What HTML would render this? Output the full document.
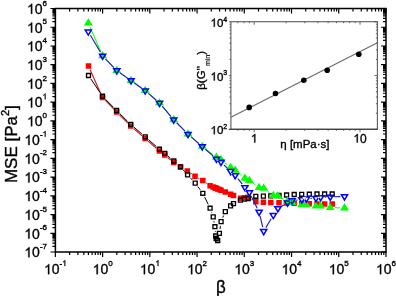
<!DOCTYPE html>
<html><head><meta charset="utf-8"><style>
html,body{margin:0;padding:0;background:#fff;width:396px;height:296px;overflow:hidden}
svg{display:block;will-change:transform}
text{font-family:"Liberation Sans", sans-serif;stroke:#000;stroke-width:0.35px}
.thin{stroke-width:0.15px}
.h{fill:transparent;stroke:transparent}
.one{fill:#000;stroke:#000;stroke-width:0.35px;vector-effect:non-scaling-stroke}
</style></head><body>
<svg width="396" height="296" viewBox="0 0 396 296" font-family='"Liberation Sans", sans-serif' fill="#000">
<path d="M50.40 252.01H55.40M386.00 252.01H381.00M52.40 246.37H55.40M386.00 246.37H383.00M52.40 243.07H55.40M386.00 243.07H383.00M52.40 240.73H55.40M386.00 240.73H383.00M52.40 238.92H55.40M386.00 238.92H383.00M52.40 237.44H55.40M386.00 237.44H383.00M52.40 236.18H55.40M386.00 236.18H383.00M52.40 235.10H55.40M386.00 235.10H383.00M52.40 234.14H55.40M386.00 234.14H383.00M50.40 233.28H55.40M386.00 233.28H381.00M52.40 227.64H55.40M386.00 227.64H383.00M52.40 224.34H55.40M386.00 224.34H383.00M52.40 222.00H55.40M386.00 222.00H383.00M52.40 220.19H55.40M386.00 220.19H383.00M52.40 218.71H55.40M386.00 218.71H383.00M52.40 217.45H55.40M386.00 217.45H383.00M52.40 216.37H55.40M386.00 216.37H383.00M52.40 215.41H55.40M386.00 215.41H383.00M50.40 214.55H55.40M386.00 214.55H381.00M52.40 208.91H55.40M386.00 208.91H383.00M52.40 205.61H55.40M386.00 205.61H383.00M52.40 203.27H55.40M386.00 203.27H383.00M52.40 201.46H55.40M386.00 201.46H383.00M52.40 199.98H55.40M386.00 199.98H383.00M52.40 198.72H55.40M386.00 198.72H383.00M52.40 197.64H55.40M386.00 197.64H383.00M52.40 196.68H55.40M386.00 196.68H383.00M50.40 195.82H55.40M386.00 195.82H381.00M52.40 190.18H55.40M386.00 190.18H383.00M52.40 186.88H55.40M386.00 186.88H383.00M52.40 184.54H55.40M386.00 184.54H383.00M52.40 182.73H55.40M386.00 182.73H383.00M52.40 181.25H55.40M386.00 181.25H383.00M52.40 179.99H55.40M386.00 179.99H383.00M52.40 178.91H55.40M386.00 178.91H383.00M52.40 177.95H55.40M386.00 177.95H383.00M50.40 177.09H55.40M386.00 177.09H381.00M52.40 171.45H55.40M386.00 171.45H383.00M52.40 168.15H55.40M386.00 168.15H383.00M52.40 165.81H55.40M386.00 165.81H383.00M52.40 164.00H55.40M386.00 164.00H383.00M52.40 162.52H55.40M386.00 162.52H383.00M52.40 161.26H55.40M386.00 161.26H383.00M52.40 160.18H55.40M386.00 160.18H383.00M52.40 159.22H55.40M386.00 159.22H383.00M50.40 158.36H55.40M386.00 158.36H381.00M52.40 152.72H55.40M386.00 152.72H383.00M52.40 149.42H55.40M386.00 149.42H383.00M52.40 147.08H55.40M386.00 147.08H383.00M52.40 145.27H55.40M386.00 145.27H383.00M52.40 143.79H55.40M386.00 143.79H383.00M52.40 142.53H55.40M386.00 142.53H383.00M52.40 141.45H55.40M386.00 141.45H383.00M52.40 140.49H55.40M386.00 140.49H383.00M50.40 139.63H55.40M386.00 139.63H381.00M52.40 133.99H55.40M386.00 133.99H383.00M52.40 130.69H55.40M386.00 130.69H383.00M52.40 128.35H55.40M386.00 128.35H383.00M52.40 126.54H55.40M386.00 126.54H383.00M52.40 125.06H55.40M386.00 125.06H383.00M52.40 123.80H55.40M386.00 123.80H383.00M52.40 122.72H55.40M386.00 122.72H383.00M52.40 121.76H55.40M386.00 121.76H383.00M50.40 120.90H55.40M386.00 120.90H381.00M52.40 115.26H55.40M386.00 115.26H383.00M52.40 111.96H55.40M386.00 111.96H383.00M52.40 109.62H55.40M386.00 109.62H383.00M52.40 107.81H55.40M386.00 107.81H383.00M52.40 106.33H55.40M386.00 106.33H383.00M52.40 105.07H55.40M386.00 105.07H383.00M52.40 103.99H55.40M386.00 103.99H383.00M52.40 103.03H55.40M386.00 103.03H383.00M50.40 102.17H55.40M386.00 102.17H381.00M52.40 96.53H55.40M386.00 96.53H383.00M52.40 93.23H55.40M386.00 93.23H383.00M52.40 90.89H55.40M386.00 90.89H383.00M52.40 89.08H55.40M386.00 89.08H383.00M52.40 87.60H55.40M386.00 87.60H383.00M52.40 86.34H55.40M386.00 86.34H383.00M52.40 85.26H55.40M386.00 85.26H383.00M52.40 84.30H55.40M386.00 84.30H383.00M50.40 83.44H55.40M386.00 83.44H381.00M52.40 77.80H55.40M386.00 77.80H383.00M52.40 74.50H55.40M386.00 74.50H383.00M52.40 72.16H55.40M386.00 72.16H383.00M52.40 70.35H55.40M386.00 70.35H383.00M52.40 68.87H55.40M386.00 68.87H383.00M52.40 67.61H55.40M386.00 67.61H383.00M52.40 66.53H55.40M386.00 66.53H383.00M52.40 65.57H55.40M386.00 65.57H383.00M50.40 64.71H55.40M386.00 64.71H381.00M52.40 59.07H55.40M386.00 59.07H383.00M52.40 55.77H55.40M386.00 55.77H383.00M52.40 53.43H55.40M386.00 53.43H383.00M52.40 51.62H55.40M386.00 51.62H383.00M52.40 50.14H55.40M386.00 50.14H383.00M52.40 48.88H55.40M386.00 48.88H383.00M52.40 47.80H55.40M386.00 47.80H383.00M52.40 46.84H55.40M386.00 46.84H383.00M50.40 45.98H55.40M386.00 45.98H381.00M52.40 40.34H55.40M386.00 40.34H383.00M52.40 37.04H55.40M386.00 37.04H383.00M52.40 34.70H55.40M386.00 34.70H383.00M52.40 32.89H55.40M386.00 32.89H383.00M52.40 31.41H55.40M386.00 31.41H383.00M52.40 30.15H55.40M386.00 30.15H383.00M52.40 29.07H55.40M386.00 29.07H383.00M52.40 28.11H55.40M386.00 28.11H383.00M50.40 27.25H55.40M386.00 27.25H381.00M52.40 21.61H55.40M386.00 21.61H383.00M52.40 18.31H55.40M386.00 18.31H383.00M52.40 15.97H55.40M386.00 15.97H383.00M52.40 14.16H55.40M386.00 14.16H383.00M52.40 12.68H55.40M386.00 12.68H383.00M52.40 11.42H55.40M386.00 11.42H383.00M52.40 10.34H55.40M386.00 10.34H383.00M52.40 9.38H55.40M386.00 9.38H383.00M50.40 8.52H55.40M386.00 8.52H381.00M55.37 257.00V252.00M55.37 8.50V13.50M69.59 255.00V252.00M69.59 8.50V11.50M77.90 255.00V252.00M77.90 8.50V11.50M83.81 255.00V252.00M83.81 8.50V11.50M88.38 255.00V252.00M88.38 8.50V11.50M92.12 255.00V252.00M92.12 8.50V11.50M95.28 255.00V252.00M95.28 8.50V11.50M98.02 255.00V252.00M98.02 8.50V11.50M100.44 255.00V252.00M100.44 8.50V11.50M102.60 257.00V252.00M102.60 8.50V13.50M116.82 255.00V252.00M116.82 8.50V11.50M125.13 255.00V252.00M125.13 8.50V11.50M131.04 255.00V252.00M131.04 8.50V11.50M135.61 255.00V252.00M135.61 8.50V11.50M139.35 255.00V252.00M139.35 8.50V11.50M142.51 255.00V252.00M142.51 8.50V11.50M145.25 255.00V252.00M145.25 8.50V11.50M147.67 255.00V252.00M147.67 8.50V11.50M149.83 257.00V252.00M149.83 8.50V13.50M164.05 255.00V252.00M164.05 8.50V11.50M172.36 255.00V252.00M172.36 8.50V11.50M178.27 255.00V252.00M178.27 8.50V11.50M182.84 255.00V252.00M182.84 8.50V11.50M186.58 255.00V252.00M186.58 8.50V11.50M189.74 255.00V252.00M189.74 8.50V11.50M192.48 255.00V252.00M192.48 8.50V11.50M194.90 255.00V252.00M194.90 8.50V11.50M197.06 257.00V252.00M197.06 8.50V13.50M211.28 255.00V252.00M211.28 8.50V11.50M219.59 255.00V252.00M219.59 8.50V11.50M225.50 255.00V252.00M225.50 8.50V11.50M230.07 255.00V252.00M230.07 8.50V11.50M233.81 255.00V252.00M233.81 8.50V11.50M236.97 255.00V252.00M236.97 8.50V11.50M239.71 255.00V252.00M239.71 8.50V11.50M242.13 255.00V252.00M242.13 8.50V11.50M244.29 257.00V252.00M244.29 8.50V13.50M258.51 255.00V252.00M258.51 8.50V11.50M266.82 255.00V252.00M266.82 8.50V11.50M272.73 255.00V252.00M272.73 8.50V11.50M277.30 255.00V252.00M277.30 8.50V11.50M281.04 255.00V252.00M281.04 8.50V11.50M284.20 255.00V252.00M284.20 8.50V11.50M286.94 255.00V252.00M286.94 8.50V11.50M289.36 255.00V252.00M289.36 8.50V11.50M291.52 257.00V252.00M291.52 8.50V13.50M305.74 255.00V252.00M305.74 8.50V11.50M314.05 255.00V252.00M314.05 8.50V11.50M319.96 255.00V252.00M319.96 8.50V11.50M324.53 255.00V252.00M324.53 8.50V11.50M328.27 255.00V252.00M328.27 8.50V11.50M331.43 255.00V252.00M331.43 8.50V11.50M334.17 255.00V252.00M334.17 8.50V11.50M336.59 255.00V252.00M336.59 8.50V11.50M338.75 257.00V252.00M338.75 8.50V13.50M352.97 255.00V252.00M352.97 8.50V11.50M361.28 255.00V252.00M361.28 8.50V11.50M367.19 255.00V252.00M367.19 8.50V11.50M371.76 255.00V252.00M371.76 8.50V11.50M375.50 255.00V252.00M375.50 8.50V11.50M378.66 255.00V252.00M378.66 8.50V11.50M381.40 255.00V252.00M381.40 8.50V11.50M383.82 255.00V252.00M383.82 8.50V11.50M385.98 257.00V252.00M385.98 8.50V13.50" stroke="#000" stroke-width="1.2" fill="none"/>
<rect x="55.4" y="8.5" width="330.6" height="243.5" fill="none" stroke="#000" stroke-width="1.5"/>
<g transform="translate(47.00 257.31) scale(1 1.0)"><text class="lbl" x="0" y="0" text-anchor="end" font-size="14"><tspan class="h">1</tspan>0<tspan dy="-8.2" font-size="8">-7</tspan></text><path class="one" d="M763 0L583 0L583 1147C540 1106 483 1064 413 1023C343 982 280 951 225 930L225 1104C326 1151 414 1209 489 1276C564 1343 617 1409 648 1472L763 1472Z" transform="translate(-22.703 0.000) scale(0.006836 -0.006836)"/></g>
<g transform="translate(47.00 238.58) scale(1 1.0)"><text class="lbl" x="0" y="0" text-anchor="end" font-size="14"><tspan class="h">1</tspan>0<tspan dy="-8.2" font-size="8">-6</tspan></text><path class="one" d="M763 0L583 0L583 1147C540 1106 483 1064 413 1023C343 982 280 951 225 930L225 1104C326 1151 414 1209 489 1276C564 1343 617 1409 648 1472L763 1472Z" transform="translate(-22.703 0.000) scale(0.006836 -0.006836)"/></g>
<g transform="translate(47.00 219.85) scale(1 1.0)"><text class="lbl" x="0" y="0" text-anchor="end" font-size="14"><tspan class="h">1</tspan>0<tspan dy="-8.2" font-size="8">-5</tspan></text><path class="one" d="M763 0L583 0L583 1147C540 1106 483 1064 413 1023C343 982 280 951 225 930L225 1104C326 1151 414 1209 489 1276C564 1343 617 1409 648 1472L763 1472Z" transform="translate(-22.703 0.000) scale(0.006836 -0.006836)"/></g>
<g transform="translate(47.00 201.12) scale(1 1.0)"><text class="lbl" x="0" y="0" text-anchor="end" font-size="14"><tspan class="h">1</tspan>0<tspan dy="-8.2" font-size="8">-4</tspan></text><path class="one" d="M763 0L583 0L583 1147C540 1106 483 1064 413 1023C343 982 280 951 225 930L225 1104C326 1151 414 1209 489 1276C564 1343 617 1409 648 1472L763 1472Z" transform="translate(-22.703 0.000) scale(0.006836 -0.006836)"/></g>
<g transform="translate(47.00 182.39) scale(1 1.0)"><text class="lbl" x="0" y="0" text-anchor="end" font-size="14"><tspan class="h">1</tspan>0<tspan dy="-8.2" font-size="8">-3</tspan></text><path class="one" d="M763 0L583 0L583 1147C540 1106 483 1064 413 1023C343 982 280 951 225 930L225 1104C326 1151 414 1209 489 1276C564 1343 617 1409 648 1472L763 1472Z" transform="translate(-22.703 0.000) scale(0.006836 -0.006836)"/></g>
<g transform="translate(47.00 163.66) scale(1 1.0)"><text class="lbl" x="0" y="0" text-anchor="end" font-size="14"><tspan class="h">1</tspan>0<tspan dy="-8.2" font-size="8">-2</tspan></text><path class="one" d="M763 0L583 0L583 1147C540 1106 483 1064 413 1023C343 982 280 951 225 930L225 1104C326 1151 414 1209 489 1276C564 1343 617 1409 648 1472L763 1472Z" transform="translate(-22.703 0.000) scale(0.006836 -0.006836)"/></g>
<g transform="translate(47.00 144.93) scale(1 1.0)"><text class="lbl" x="0" y="0" text-anchor="end" font-size="14"><tspan class="h">1</tspan>0<tspan dy="-8.2" font-size="8">-<tspan class="h">1</tspan></tspan></text><path class="one" d="M763 0L583 0L583 1147C540 1106 483 1064 413 1023C343 982 280 951 225 930L225 1104C326 1151 414 1209 489 1276C564 1343 617 1409 648 1472L763 1472Z" transform="translate(-22.703 0.000) scale(0.006836 -0.006836)"/><path class="one" d="M763 0L583 0L583 1147C540 1106 483 1064 413 1023C343 982 280 951 225 930L225 1104C326 1151 414 1209 489 1276C564 1343 617 1409 648 1472L763 1472Z" transform="translate(-4.469 -8.200) scale(0.003906 -0.003906)"/></g>
<g transform="translate(47.00 126.20) scale(1 1.0)"><text class="lbl" x="0" y="0" text-anchor="end" font-size="14"><tspan class="h">1</tspan>0<tspan dy="-8.2" font-size="8">0</tspan></text><path class="one" d="M763 0L583 0L583 1147C540 1106 483 1064 413 1023C343 982 280 951 225 930L225 1104C326 1151 414 1209 489 1276C564 1343 617 1409 648 1472L763 1472Z" transform="translate(-20.031 0.000) scale(0.006836 -0.006836)"/></g>
<g transform="translate(47.00 107.47) scale(1 1.0)"><text class="lbl" x="0" y="0" text-anchor="end" font-size="14"><tspan class="h">1</tspan>0<tspan dy="-8.2" font-size="8"><tspan class="h">1</tspan></tspan></text><path class="one" d="M763 0L583 0L583 1147C540 1106 483 1064 413 1023C343 982 280 951 225 930L225 1104C326 1151 414 1209 489 1276C564 1343 617 1409 648 1472L763 1472Z" transform="translate(-20.031 0.000) scale(0.006836 -0.006836)"/><path class="one" d="M763 0L583 0L583 1147C540 1106 483 1064 413 1023C343 982 280 951 225 930L225 1104C326 1151 414 1209 489 1276C564 1343 617 1409 648 1472L763 1472Z" transform="translate(-4.453 -8.200) scale(0.003906 -0.003906)"/></g>
<g transform="translate(47.00 88.74) scale(1 1.0)"><text class="lbl" x="0" y="0" text-anchor="end" font-size="14"><tspan class="h">1</tspan>0<tspan dy="-8.2" font-size="8">2</tspan></text><path class="one" d="M763 0L583 0L583 1147C540 1106 483 1064 413 1023C343 982 280 951 225 930L225 1104C326 1151 414 1209 489 1276C564 1343 617 1409 648 1472L763 1472Z" transform="translate(-20.031 0.000) scale(0.006836 -0.006836)"/></g>
<g transform="translate(47.00 70.01) scale(1 1.0)"><text class="lbl" x="0" y="0" text-anchor="end" font-size="14"><tspan class="h">1</tspan>0<tspan dy="-8.2" font-size="8">3</tspan></text><path class="one" d="M763 0L583 0L583 1147C540 1106 483 1064 413 1023C343 982 280 951 225 930L225 1104C326 1151 414 1209 489 1276C564 1343 617 1409 648 1472L763 1472Z" transform="translate(-20.031 0.000) scale(0.006836 -0.006836)"/></g>
<g transform="translate(47.00 51.28) scale(1 1.0)"><text class="lbl" x="0" y="0" text-anchor="end" font-size="14"><tspan class="h">1</tspan>0<tspan dy="-8.2" font-size="8">4</tspan></text><path class="one" d="M763 0L583 0L583 1147C540 1106 483 1064 413 1023C343 982 280 951 225 930L225 1104C326 1151 414 1209 489 1276C564 1343 617 1409 648 1472L763 1472Z" transform="translate(-20.031 0.000) scale(0.006836 -0.006836)"/></g>
<g transform="translate(47.00 32.55) scale(1 1.0)"><text class="lbl" x="0" y="0" text-anchor="end" font-size="14"><tspan class="h">1</tspan>0<tspan dy="-8.2" font-size="8">5</tspan></text><path class="one" d="M763 0L583 0L583 1147C540 1106 483 1064 413 1023C343 982 280 951 225 930L225 1104C326 1151 414 1209 489 1276C564 1343 617 1409 648 1472L763 1472Z" transform="translate(-20.031 0.000) scale(0.006836 -0.006836)"/></g>
<g transform="translate(47.00 13.82) scale(1 1.0)"><text class="lbl" x="0" y="0" text-anchor="end" font-size="14"><tspan class="h">1</tspan>0<tspan dy="-8.2" font-size="8">6</tspan></text><path class="one" d="M763 0L583 0L583 1147C540 1106 483 1064 413 1023C343 982 280 951 225 930L225 1104C326 1151 414 1209 489 1276C564 1343 617 1409 648 1472L763 1472Z" transform="translate(-20.031 0.000) scale(0.006836 -0.006836)"/></g>
<g transform="translate(55.37 274.20) scale(1 1.0)"><text class="lbl" x="0" y="0" text-anchor="middle" font-size="14"><tspan class="h">1</tspan>0<tspan dy="-8.2" font-size="8">-<tspan class="h">1</tspan></tspan></text><path class="one" d="M763 0L583 0L583 1147C540 1106 483 1064 413 1023C343 982 280 951 225 930L225 1104C326 1151 414 1209 489 1276C564 1343 617 1409 648 1472L763 1472Z" transform="translate(-11.352 0.000) scale(0.006836 -0.006836)"/><path class="one" d="M763 0L583 0L583 1147C540 1106 483 1064 413 1023C343 982 280 951 225 930L225 1104C326 1151 414 1209 489 1276C564 1343 617 1409 648 1472L763 1472Z" transform="translate(6.883 -8.200) scale(0.003906 -0.003906)"/></g>
<g transform="translate(102.60 274.20) scale(1 1.0)"><text class="lbl" x="0" y="0" text-anchor="middle" font-size="14"><tspan class="h">1</tspan>0<tspan dy="-8.2" font-size="8">0</tspan></text><path class="one" d="M763 0L583 0L583 1147C540 1106 483 1064 413 1023C343 982 280 951 225 930L225 1104C326 1151 414 1209 489 1276C564 1343 617 1409 648 1472L763 1472Z" transform="translate(-10.016 0.000) scale(0.006836 -0.006836)"/></g>
<g transform="translate(149.83 274.20) scale(1 1.0)"><text class="lbl" x="0" y="0" text-anchor="middle" font-size="14"><tspan class="h">1</tspan>0<tspan dy="-8.2" font-size="8"><tspan class="h">1</tspan></tspan></text><path class="one" d="M763 0L583 0L583 1147C540 1106 483 1064 413 1023C343 982 280 951 225 930L225 1104C326 1151 414 1209 489 1276C564 1343 617 1409 648 1472L763 1472Z" transform="translate(-10.016 0.000) scale(0.006836 -0.006836)"/><path class="one" d="M763 0L583 0L583 1147C540 1106 483 1064 413 1023C343 982 280 951 225 930L225 1104C326 1151 414 1209 489 1276C564 1343 617 1409 648 1472L763 1472Z" transform="translate(5.562 -8.200) scale(0.003906 -0.003906)"/></g>
<g transform="translate(197.06 274.20) scale(1 1.0)"><text class="lbl" x="0" y="0" text-anchor="middle" font-size="14"><tspan class="h">1</tspan>0<tspan dy="-8.2" font-size="8">2</tspan></text><path class="one" d="M763 0L583 0L583 1147C540 1106 483 1064 413 1023C343 982 280 951 225 930L225 1104C326 1151 414 1209 489 1276C564 1343 617 1409 648 1472L763 1472Z" transform="translate(-10.016 0.000) scale(0.006836 -0.006836)"/></g>
<g transform="translate(244.29 274.20) scale(1 1.0)"><text class="lbl" x="0" y="0" text-anchor="middle" font-size="14"><tspan class="h">1</tspan>0<tspan dy="-8.2" font-size="8">3</tspan></text><path class="one" d="M763 0L583 0L583 1147C540 1106 483 1064 413 1023C343 982 280 951 225 930L225 1104C326 1151 414 1209 489 1276C564 1343 617 1409 648 1472L763 1472Z" transform="translate(-10.016 0.000) scale(0.006836 -0.006836)"/></g>
<g transform="translate(291.52 274.20) scale(1 1.0)"><text class="lbl" x="0" y="0" text-anchor="middle" font-size="14"><tspan class="h">1</tspan>0<tspan dy="-8.2" font-size="8">4</tspan></text><path class="one" d="M763 0L583 0L583 1147C540 1106 483 1064 413 1023C343 982 280 951 225 930L225 1104C326 1151 414 1209 489 1276C564 1343 617 1409 648 1472L763 1472Z" transform="translate(-10.016 0.000) scale(0.006836 -0.006836)"/></g>
<g transform="translate(338.75 274.20) scale(1 1.0)"><text class="lbl" x="0" y="0" text-anchor="middle" font-size="14"><tspan class="h">1</tspan>0<tspan dy="-8.2" font-size="8">5</tspan></text><path class="one" d="M763 0L583 0L583 1147C540 1106 483 1064 413 1023C343 982 280 951 225 930L225 1104C326 1151 414 1209 489 1276C564 1343 617 1409 648 1472L763 1472Z" transform="translate(-10.016 0.000) scale(0.006836 -0.006836)"/></g>
<g transform="translate(385.98 274.20) scale(1 1.0)"><text class="lbl" x="0" y="0" text-anchor="middle" font-size="14"><tspan class="h">1</tspan>0<tspan dy="-8.2" font-size="8">6</tspan></text><path class="one" d="M763 0L583 0L583 1147C540 1106 483 1064 413 1023C343 982 280 951 225 930L225 1104C326 1151 414 1209 489 1276C564 1343 617 1409 648 1472L763 1472Z" transform="translate(-10.016 0.000) scale(0.006836 -0.006836)"/></g>
<g transform="translate(16.90 183.10) rotate(-90) scale(1 1.0)"><text class="lbl" x="0" y="0" font-size="17">MSE [Pa<tspan dy="-7.5" font-size="11">2</tspan><tspan dy="7.5">]</tspan></text></g>
<g transform="translate(221 292.6) scale(1 1.095)"><text class="lbl" x="0" y="0" text-anchor="middle" font-size="17">β</text></g>
<path d="M90.12 69.76L100.88 93.94M105.30 100.46L113.80 109.14M119.44 114.82L127.86 123.18M133.73 128.61L142.17 135.89M148.21 141.13L156.39 148.27M167.86 157.58L170.74 160.02M190.59 173.27L191.71 174.03M198.50 178.23L199.30 178.67M206.08 182.89L206.82 183.41M251.57 199.28L252.33 199.72" fill="none" stroke="#d81010" stroke-width="1.1"/>
<path d="M85.75 63.35h5.5v5.5h-5.5ZM99.75 94.85h5.5v5.5h-5.5ZM113.85 109.25h5.5v5.5h-5.5ZM127.95 123.25h5.5v5.5h-5.5ZM142.45 135.75h5.5v5.5h-5.5ZM156.65 148.15h5.5v5.5h-5.5ZM162.05 152.25h5.5v5.5h-5.5ZM171.05 159.85h5.5v5.5h-5.5ZM177.75 164.25h5.5v5.5h-5.5ZM184.55 168.25h5.5v5.5h-5.5ZM192.25 173.55h5.5v5.5h-5.5ZM200.05 177.85h5.5v5.5h-5.5ZM207.35 182.95h5.5v5.5h-5.5ZM210.45 184.25h5.5v5.5h-5.5ZM212.15 184.96h5.5v5.5h-5.5ZM212.95 185.30h5.5v5.5h-5.5ZM213.45 185.50h5.5v5.5h-5.5ZM214.95 186.13h5.5v5.5h-5.5ZM216.65 186.84h5.5v5.5h-5.5ZM218.35 187.56h5.5v5.5h-5.5ZM222.55 189.32h5.5v5.5h-5.5ZM227.85 191.54h5.5v5.5h-5.5ZM230.75 192.75h5.5v5.5h-5.5ZM238.05 195.45h5.5v5.5h-5.5ZM241.65 195.05h5.5v5.5h-5.5ZM245.35 194.55h5.5v5.5h-5.5ZM253.05 198.95h5.5v5.5h-5.5ZM260.65 199.45h5.5v5.5h-5.5ZM268.05 199.75h5.5v5.5h-5.5ZM276.25 199.95h5.5v5.5h-5.5ZM283.85 200.25h5.5v5.5h-5.5ZM291.45 200.55h5.5v5.5h-5.5ZM298.95 200.95h5.5v5.5h-5.5ZM306.55 201.05h5.5v5.5h-5.5ZM314.25 201.15h5.5v5.5h-5.5ZM321.85 201.25h5.5v5.5h-5.5ZM329.45 201.25h5.5v5.5h-5.5Z" fill="#ff0000"/>
<path d="M90.91 79.06L100.09 92.64M105.52 99.26L113.58 107.44M119.66 113.52L127.64 121.38M133.97 127.19L141.93 134.01M148.44 139.63L156.16 146.37M168.09 156.17L170.51 158.23M183.33 170.03L184.77 171.67M190.52 178.05L192.28 179.95M197.77 186.55L200.23 189.85M204.69 197.16L208.21 204.34M211.54 212.25L211.76 212.85M213.93 221.14L214.17 222.46M215.27 230.98L215.33 231.72M220.01 229.14L220.49 225.86M222.77 217.64L223.63 215.56" fill="none" stroke="#000000" stroke-width="1.0"/>
<path d="M86.53 73.53h3.9499999999999997v3.9499999999999997h-3.9499999999999997ZM100.53 94.23h3.9499999999999997v3.9499999999999997h-3.9499999999999997ZM114.62 108.53h3.9499999999999997v3.9499999999999997h-3.9499999999999997ZM128.72 122.43h3.9499999999999997v3.9499999999999997h-3.9499999999999997ZM143.22 134.83h3.9499999999999997v3.9499999999999997h-3.9499999999999997ZM157.43 147.22h3.9499999999999997v3.9499999999999997h-3.9499999999999997ZM162.83 151.43h3.9499999999999997v3.9499999999999997h-3.9499999999999997ZM171.83 159.03h3.9499999999999997v3.9499999999999997h-3.9499999999999997ZM178.53 164.83h3.9499999999999997v3.9499999999999997h-3.9499999999999997ZM185.62 172.93h3.9499999999999997v3.9499999999999997h-3.9499999999999997ZM193.22 181.12h3.9499999999999997v3.9499999999999997h-3.9499999999999997ZM200.83 191.33h3.9499999999999997v3.9499999999999997h-3.9499999999999997ZM208.12 206.22h3.9499999999999997v3.9499999999999997h-3.9499999999999997ZM211.22 214.93h3.9499999999999997v3.9499999999999997h-3.9499999999999997ZM212.93 224.72h3.9499999999999997v3.9499999999999997h-3.9499999999999997ZM213.72 234.03h3.9499999999999997v3.9499999999999997h-3.9499999999999997ZM214.22 236.53h3.9499999999999997v3.9499999999999997h-3.9499999999999997ZM215.72 238.53h3.9499999999999997v3.9499999999999997h-3.9499999999999997ZM217.43 231.43h3.9499999999999997v3.9499999999999997h-3.9499999999999997ZM219.12 219.62h3.9499999999999997v3.9499999999999997h-3.9499999999999997ZM223.33 209.62h3.9499999999999997v3.9499999999999997h-3.9499999999999997ZM228.62 203.93h3.9499999999999997v3.9499999999999997h-3.9499999999999997ZM231.53 201.62h3.9499999999999997v3.9499999999999997h-3.9499999999999997ZM238.43 198.12h3.9499999999999997v3.9499999999999997h-3.9499999999999997ZM242.33 197.22h3.9499999999999997v3.9499999999999997h-3.9499999999999997ZM246.22 196.53h3.9499999999999997v3.9499999999999997h-3.9499999999999997ZM253.83 194.33h3.9499999999999997v3.9499999999999997h-3.9499999999999997ZM261.42 194.12h3.9499999999999997v3.9499999999999997h-3.9499999999999997ZM268.82 193.83h3.9499999999999997v3.9499999999999997h-3.9499999999999997ZM277.02 193.53h3.9499999999999997v3.9499999999999997h-3.9499999999999997ZM284.62 193.03h3.9499999999999997v3.9499999999999997h-3.9499999999999997ZM292.22 192.53h3.9499999999999997v3.9499999999999997h-3.9499999999999997ZM299.72 192.33h3.9499999999999997v3.9499999999999997h-3.9499999999999997ZM307.32 192.22h3.9499999999999997v3.9499999999999997h-3.9499999999999997ZM315.02 192.03h3.9499999999999997v3.9499999999999997h-3.9499999999999997ZM322.62 192.03h3.9499999999999997v3.9499999999999997h-3.9499999999999997ZM330.22 192.03h3.9499999999999997v3.9499999999999997h-3.9499999999999997Z" fill="none" stroke="#000000" stroke-width="1.35"/>
<path d="M90.10 27.22L100.80 51.74M105.73 59.10L113.67 67.33M120.48 73.16L127.32 77.98M134.67 83.17L141.53 88.06M148.61 93.60L156.09 100.03M162.40 106.40L170.80 116.33M176.87 122.96L184.83 130.97M191.40 137.11L198.80 143.52M205.78 149.20L212.82 154.57M224.49 162.54L227.11 164.66M238.67 173.26L241.43 175.54M253.05 183.13L255.45 184.87M267.32 191.08L269.68 192.82M281.91 198.15L283.49 198.95M296.50 203.45L297.40 203.65M310.86 205.50L311.54 205.60M325.05 206.89L325.75 207.01M334.70 207.79L340.00 207.91" fill="none" stroke="#00ff00" stroke-width="1.0"/>
<path d="M88.30 18.30L92.80 25.50L83.80 25.50ZM102.60 51.07L107.10 58.27L98.10 58.27ZM116.80 65.77L121.30 72.97L112.30 72.97ZM131.00 75.77L135.50 82.97L126.50 82.97ZM145.20 85.87L149.70 93.07L140.70 93.07ZM159.50 98.17L164.00 105.37L155.00 105.37ZM173.70 114.97L178.20 122.17L169.20 122.17ZM188.00 129.37L192.50 136.57L183.50 136.57ZM202.20 141.67L206.70 148.87L197.70 148.87ZM216.40 152.50L220.90 159.70L211.90 159.70ZM221.00 154.90L225.50 162.10L216.50 162.10ZM230.60 162.70L235.10 169.90L226.10 169.90ZM235.20 165.60L239.70 172.80L230.70 172.80ZM244.90 173.60L249.40 180.80L240.40 180.80ZM249.40 175.70L253.90 182.90L244.90 182.90ZM259.10 182.70L263.60 189.90L254.60 189.90ZM263.70 183.60L268.20 190.80L259.20 190.80ZM273.30 190.70L277.80 197.90L268.80 197.90ZM277.90 191.30L282.40 198.50L273.40 198.50ZM287.50 196.20L292.00 203.40L283.00 203.40ZM292.10 197.70L296.60 204.90L287.60 204.90ZM301.80 199.80L306.30 207.00L297.30 207.00ZM306.40 200.10L310.90 207.30L301.90 207.30ZM316.00 201.40L320.50 208.60L311.50 208.60ZM320.60 201.40L325.10 208.60L316.10 208.60ZM330.20 202.90L334.70 210.10L325.70 210.10ZM344.50 203.20L349.00 210.40L340.00 210.40Z" fill="#00ff00"/>
<path d="M90.44 35.28L100.46 52.25M105.52 58.89L113.88 67.55M120.23 72.98L127.57 78.15M134.42 83.00L141.78 88.23M148.38 93.41L156.32 100.23M162.21 106.17L170.99 116.56M176.66 122.75L185.04 131.19M191.17 136.92L199.03 143.72M205.36 149.23L213.24 156.10M224.03 164.97L227.57 168.36M237.84 178.63L242.26 184.10M251.26 196.23L257.24 208.30M260.08 216.15L262.72 227.18M265.85 227.66L271.15 218.77M281.53 206.25L283.87 204.88M296.28 200.14L297.62 200.00M310.59 198.50L311.81 198.43M324.79 197.15L326.01 197.09M334.40 196.75L340.30 196.58" fill="none" stroke="#2020b8" stroke-width="1.15"/>
<path d="M83.90 29.20L92.70 29.20L88.30 36.60ZM88.30 33.67L90.06 30.70L86.54 30.70ZM98.20 53.40L107.00 53.40L102.60 60.80ZM102.60 57.87L104.36 54.90L100.84 54.90ZM112.40 68.10L121.20 68.10L116.80 75.50ZM116.80 72.57L118.56 69.60L115.04 69.60ZM126.60 78.10L135.40 78.10L131.00 85.50ZM131.00 82.57L132.76 79.60L129.24 79.60ZM140.80 88.20L149.60 88.20L145.20 95.60ZM145.20 92.67L146.96 89.70L143.44 89.70ZM155.10 100.50L163.90 100.50L159.50 107.90ZM159.50 104.97L161.26 102.00L157.74 102.00ZM169.30 117.30L178.10 117.30L173.70 124.70ZM173.70 121.77L175.46 118.80L171.94 118.80ZM183.60 131.70L192.40 131.70L188.00 139.10ZM188.00 136.17L189.76 133.20L186.24 133.20ZM197.80 144.00L206.60 144.00L202.20 151.40ZM202.20 148.47L203.96 145.50L200.44 145.50ZM212.00 156.40L220.80 156.40L216.40 163.80ZM216.40 160.87L218.16 157.90L214.64 157.90ZM216.60 159.60L225.40 159.60L221.00 167.00ZM221.00 164.07L222.76 161.10L219.24 161.10ZM226.20 168.80L235.00 168.80L230.60 176.20ZM230.60 173.27L232.36 170.30L228.84 170.30ZM230.80 172.90L239.60 172.90L235.20 180.30ZM235.20 177.37L236.96 174.40L233.44 174.40ZM240.50 184.90L249.30 184.90L244.90 192.30ZM244.90 189.37L246.66 186.40L243.14 186.40ZM245.00 190.00L253.80 190.00L249.40 197.40ZM249.40 194.47L251.16 191.50L247.64 191.50ZM254.70 209.60L263.50 209.60L259.10 217.00ZM259.10 214.07L260.86 211.10L257.34 211.10ZM259.30 228.80L268.10 228.80L263.70 236.20ZM263.70 233.27L265.46 230.30L261.94 230.30ZM268.90 212.70L277.70 212.70L273.30 220.10ZM273.30 217.17L275.06 214.20L271.54 214.20ZM273.50 205.90L282.30 205.90L277.90 213.30ZM277.90 210.37L279.66 207.40L276.14 207.40ZM283.10 200.30L291.90 200.30L287.50 207.70ZM287.50 204.77L289.26 201.80L285.74 201.80ZM287.70 198.10L296.50 198.10L292.10 205.50ZM292.10 202.57L293.86 199.60L290.34 199.60ZM297.40 197.10L306.20 197.10L301.80 204.50ZM301.80 201.57L303.56 198.60L300.04 198.60ZM302.00 196.30L310.80 196.30L306.40 203.70ZM306.40 200.77L308.16 197.80L304.64 197.80ZM311.60 195.70L320.40 195.70L316.00 203.10ZM316.00 200.17L317.76 197.20L314.24 197.20ZM316.20 194.90L325.00 194.90L320.60 202.30ZM320.60 199.37L322.36 196.40L318.84 196.40ZM325.80 194.40L334.60 194.40L330.20 201.80ZM330.20 198.87L331.96 195.90L328.44 195.90ZM340.10 194.00L348.90 194.00L344.50 201.40ZM344.50 198.47L346.26 195.50L342.74 195.50Z" fill="#0000ff" fill-rule="evenodd"/>
<rect x="230.9" y="21.7" width="146.49999999999997" height="107.60000000000001" fill="#fff" stroke="#626262" stroke-width="1.15"/>
<line x1="228.9" y1="129.3" x2="377.4" y2="129.3" stroke="#333" stroke-width="1.1"/>
<path d="M228.90 129.40H230.90M377.40 129.40H374.40M229.40 113.20H230.90M377.40 113.20H375.90M229.40 103.73H230.90M377.40 103.73H375.90M229.40 97.01H230.90M377.40 97.01H375.90M229.40 91.80H230.90M377.40 91.80H375.90M229.40 87.54H230.90M377.40 87.54H375.90M229.40 83.93H230.90M377.40 83.93H375.90M229.40 80.81H230.90M377.40 80.81H375.90M229.40 78.06H230.90M377.40 78.06H375.90M228.90 75.60H230.90M377.40 75.60H374.40M229.40 59.40H230.90M377.40 59.40H375.90M229.40 49.93H230.90M377.40 49.93H375.90M229.40 43.21H230.90M377.40 43.21H375.90M229.40 38.00H230.90M377.40 38.00H375.90M229.40 33.74H230.90M377.40 33.74H375.90M229.40 30.13H230.90M377.40 30.13H375.90M229.40 27.01H230.90M377.40 27.01H375.90M229.40 24.26H230.90M377.40 24.26H375.90M228.90 21.80H230.90M377.40 21.80H374.40M237.81 129.30V130.80M237.81 21.70V23.20M243.95 129.30V130.80M243.95 21.70V23.20M249.36 129.30V130.80M249.36 21.70V23.20M254.20 129.30V132.30M254.20 21.70V24.70M286.05 129.30V130.80M286.05 21.70V23.20M304.68 129.30V130.80M304.68 21.70V23.20M317.90 129.30V130.80M317.90 21.70V23.20M328.15 129.30V130.80M328.15 21.70V23.20M336.53 129.30V130.80M336.53 21.70V23.20M343.61 129.30V130.80M343.61 21.70V23.20M349.75 129.30V130.80M349.75 21.70V23.20M355.16 129.30V130.80M355.16 21.70V23.20M360.00 129.30V132.30M360.00 21.70V24.70" stroke="#444" stroke-width="0.8" fill="none"/>
<g transform="translate(227.20 134.30) scale(1 1.0)"><text class="lbl" x="0" y="0" text-anchor="end" font-size="11.5"><tspan class="h">1</tspan>0<tspan dy="-5.2" font-size="7">2</tspan></text><path class="one" d="M763 0L583 0L583 1147C540 1106 483 1064 413 1023C343 982 280 951 225 930L225 1104C326 1151 414 1209 489 1276C564 1343 617 1409 648 1472L763 1472Z" transform="translate(-16.703 0.000) scale(0.005615 -0.005615)"/></g>
<g transform="translate(227.20 80.50) scale(1 1.0)"><text class="lbl" x="0" y="0" text-anchor="end" font-size="11.5"><tspan class="h">1</tspan>0<tspan dy="-5.2" font-size="7">3</tspan></text><path class="one" d="M763 0L583 0L583 1147C540 1106 483 1064 413 1023C343 982 280 951 225 930L225 1104C326 1151 414 1209 489 1276C564 1343 617 1409 648 1472L763 1472Z" transform="translate(-16.703 0.000) scale(0.005615 -0.005615)"/></g>
<g transform="translate(227.20 26.70) scale(1 1.0)"><text class="lbl" x="0" y="0" text-anchor="end" font-size="11.5"><tspan class="h">1</tspan>0<tspan dy="-5.2" font-size="7">4</tspan></text><path class="one" d="M763 0L583 0L583 1147C540 1106 483 1064 413 1023C343 982 280 951 225 930L225 1104C326 1151 414 1209 489 1276C564 1343 617 1409 648 1472L763 1472Z" transform="translate(-16.703 0.000) scale(0.005615 -0.005615)"/></g>
<g transform="translate(254.20 142.50) scale(1 1.0)"><text class="lbl" x="0" y="0" text-anchor="middle" font-size="12"><tspan class="h">1</tspan></text><path class="one" d="M763 0L583 0L583 1147C540 1106 483 1064 413 1023C343 982 280 951 225 930L225 1104C326 1151 414 1209 489 1276C564 1343 617 1409 648 1472L763 1472Z" transform="translate(-3.344 0.000) scale(0.005859 -0.005859)"/></g>
<g transform="translate(360.00 142.50) scale(1 1.0)"><text class="lbl" x="0" y="0" text-anchor="middle" font-size="12"><tspan class="h">1</tspan>0</text><path class="one" d="M763 0L583 0L583 1147C540 1106 483 1064 413 1023C343 982 280 951 225 930L225 1104C326 1151 414 1209 489 1276C564 1343 617 1409 648 1472L763 1472Z" transform="translate(-6.680 0.000) scale(0.005859 -0.005859)"/></g>
<g transform="translate(280.30 148.10) scale(1 1.0)"><text class="lbl" x="0" y="0" font-size="11.5">η [mPa·s]</text></g>
<g transform="translate(204.50 89.80) rotate(-90) scale(1 1.0)"><text class="lbl" x="0" y="0" font-size="11.5">β(G''<tspan dy="5.2" font-size="7" class="thin">min</tspan><tspan dy="-5.2">)</tspan></text></g>
<line x1="230.9" y1="117.3" x2="377.4" y2="42.8" stroke="#6a6a6a" stroke-width="1.1"/>
<circle cx="249.2" cy="107.4" r="2.8" fill="#000"/>
<circle cx="275.5" cy="93.5" r="2.8" fill="#000"/>
<circle cx="303.8" cy="80.2" r="2.8" fill="#000"/>
<circle cx="327.2" cy="70.3" r="2.8" fill="#000"/>
<circle cx="358.8" cy="54.2" r="2.8" fill="#000"/>
</svg>
</body></html>
